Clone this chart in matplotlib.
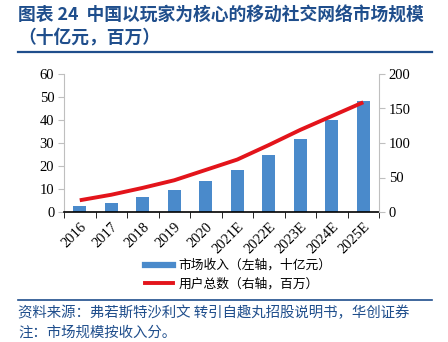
import matplotlib
matplotlib.use("Agg")
import matplotlib.pyplot as plt
import numpy as np
from matplotlib.lines import Line2D

years = ["2016", "2017", "2018", "2019", "2020", "2021E", "2022E", "2023E", "2024E", "2025E"]
revenue = [2.5, 4.1, 6.4, 9.4, 13.6, 18.4, 24.7, 31.9, 39.8, 48.1]   # 十亿元, left axis
users = [17, 25, 35, 46, 61, 76, 97, 119, 139, 159]                 # 百万, right axis
left_ticks = [0, 10, 20, 30, 40, 50, 60]
right_ticks = [0, 50, 100, 150, 200]

title_lines = ["图表 24  中国以玩家为核心的移动社交网络市场规模", "（十亿元，百万）"]
legend_labels = ["市场收入（左轴，十亿元）", "用户总数（右轴，百万）"]
source_text = "资料来源：弗若斯特沙利文 转引自趣丸招股说明书，华创证券"
note_text = "注：市场规模按收入分。"

W, H = 448, 342
fig = plt.figure(figsize=(W / 100, H / 100), dpi=100)
cjk = ["Noto Sans CJK SC", "DejaVu Sans"]
serif = "Liberation Serif"
navy = "#1F4E8C"
bar_color = "#4A8ACB"
line_color = "#E3141B"

ax = fig.add_axes([64 / W, 1 - 212 / H, (379 - 64) / W, (212 - 74) / H])
x = np.arange(len(years))
ax.bar(x, revenue, width=0.4, color=bar_color, zorder=2)
ax.set_xlim(-0.5, len(years) - 0.5)
ax.set_ylim(0, 60)
ax.set_yticks(left_ticks)
ax.set_yticklabels([str(t) for t in left_ticks], fontfamily=serif, fontsize=10.5)
ax.set_xticks(x)
ax.set_xticklabels(years, rotation=45, ha="right", rotation_mode="anchor",
                   fontfamily=serif, fontsize=10.5)
ax.tick_params(axis="x", length=0, pad=6)
ax.set_xticks(np.arange(-0.5, len(years)), minor=True)
ax.tick_params(axis="x", which="minor", length=4, color="black", direction="out")
ax.tick_params(axis="y", length=4, color="#BFBFBF", pad=3)
for s in ["top", "right"]:
    ax.spines[s].set_visible(False)
ax.spines["left"].set_color("#BFBFBF")
ax.spines["bottom"].set_color("black")
ax.spines["bottom"].set_linewidth(1.2)

ax2 = ax.twinx()
ax2.plot(x, users, color=line_color, lw=2.8, solid_capstyle="butt", zorder=3)
ax2.set_ylim(0, 200)
ax2.set_yticks(right_ticks)
ax2.set_yticklabels([str(t) for t in right_ticks], fontfamily=serif, fontsize=10.5)
ax2.tick_params(axis="y", length=4, color="#BFBFBF", pad=3)
for s in ["top", "left", "bottom"]:
    ax2.spines[s].set_visible(False)
ax2.spines["right"].set_color("#BFBFBF")

# Title
fig.text(18 / W, 1 - 16 / H, title_lines[0], fontfamily=cjk, fontsize=12.8,
         fontweight="bold", color=navy, va="center", ha="left")
fig.text(18 / W, 1 - 38 / H, title_lines[1], fontfamily=cjk, fontsize=12.8,
         fontweight="bold", color=navy, va="center", ha="left")
fig.add_artist(Line2D([18 / W, 432 / W], [1 - 52 / H, 1 - 52 / H], color=navy, lw=1.6))

# Legend
handles = [Line2D([0], [0], color=bar_color, lw=4.5),
           Line2D([0], [0], color=line_color, lw=2.8)]
fig.legend(handles, legend_labels, loc="center left",
           bbox_to_anchor=(133 / W, 1 - 275 / H), frameon=False,
           prop={"family": cjk, "size": 9.2}, handlelength=2.2,
           handletextpad=0.45, labelspacing=0.45)

# Bottom rule and source
fig.add_artist(Line2D([18 / W, 432 / W], [1 - 300 / H, 1 - 300 / H], color=navy, lw=1.2))
fig.text(18 / W, 1 - 313 / H, source_text, fontfamily=cjk, fontsize=10.4,
         style="italic", color=navy, va="center", ha="left")
fig.text(18 / W, 1 - 333 / H, note_text, fontfamily=cjk, fontsize=10.4,
         style="italic", color=navy, va="center", ha="left")

fig.savefig("out.png", dpi=100)
